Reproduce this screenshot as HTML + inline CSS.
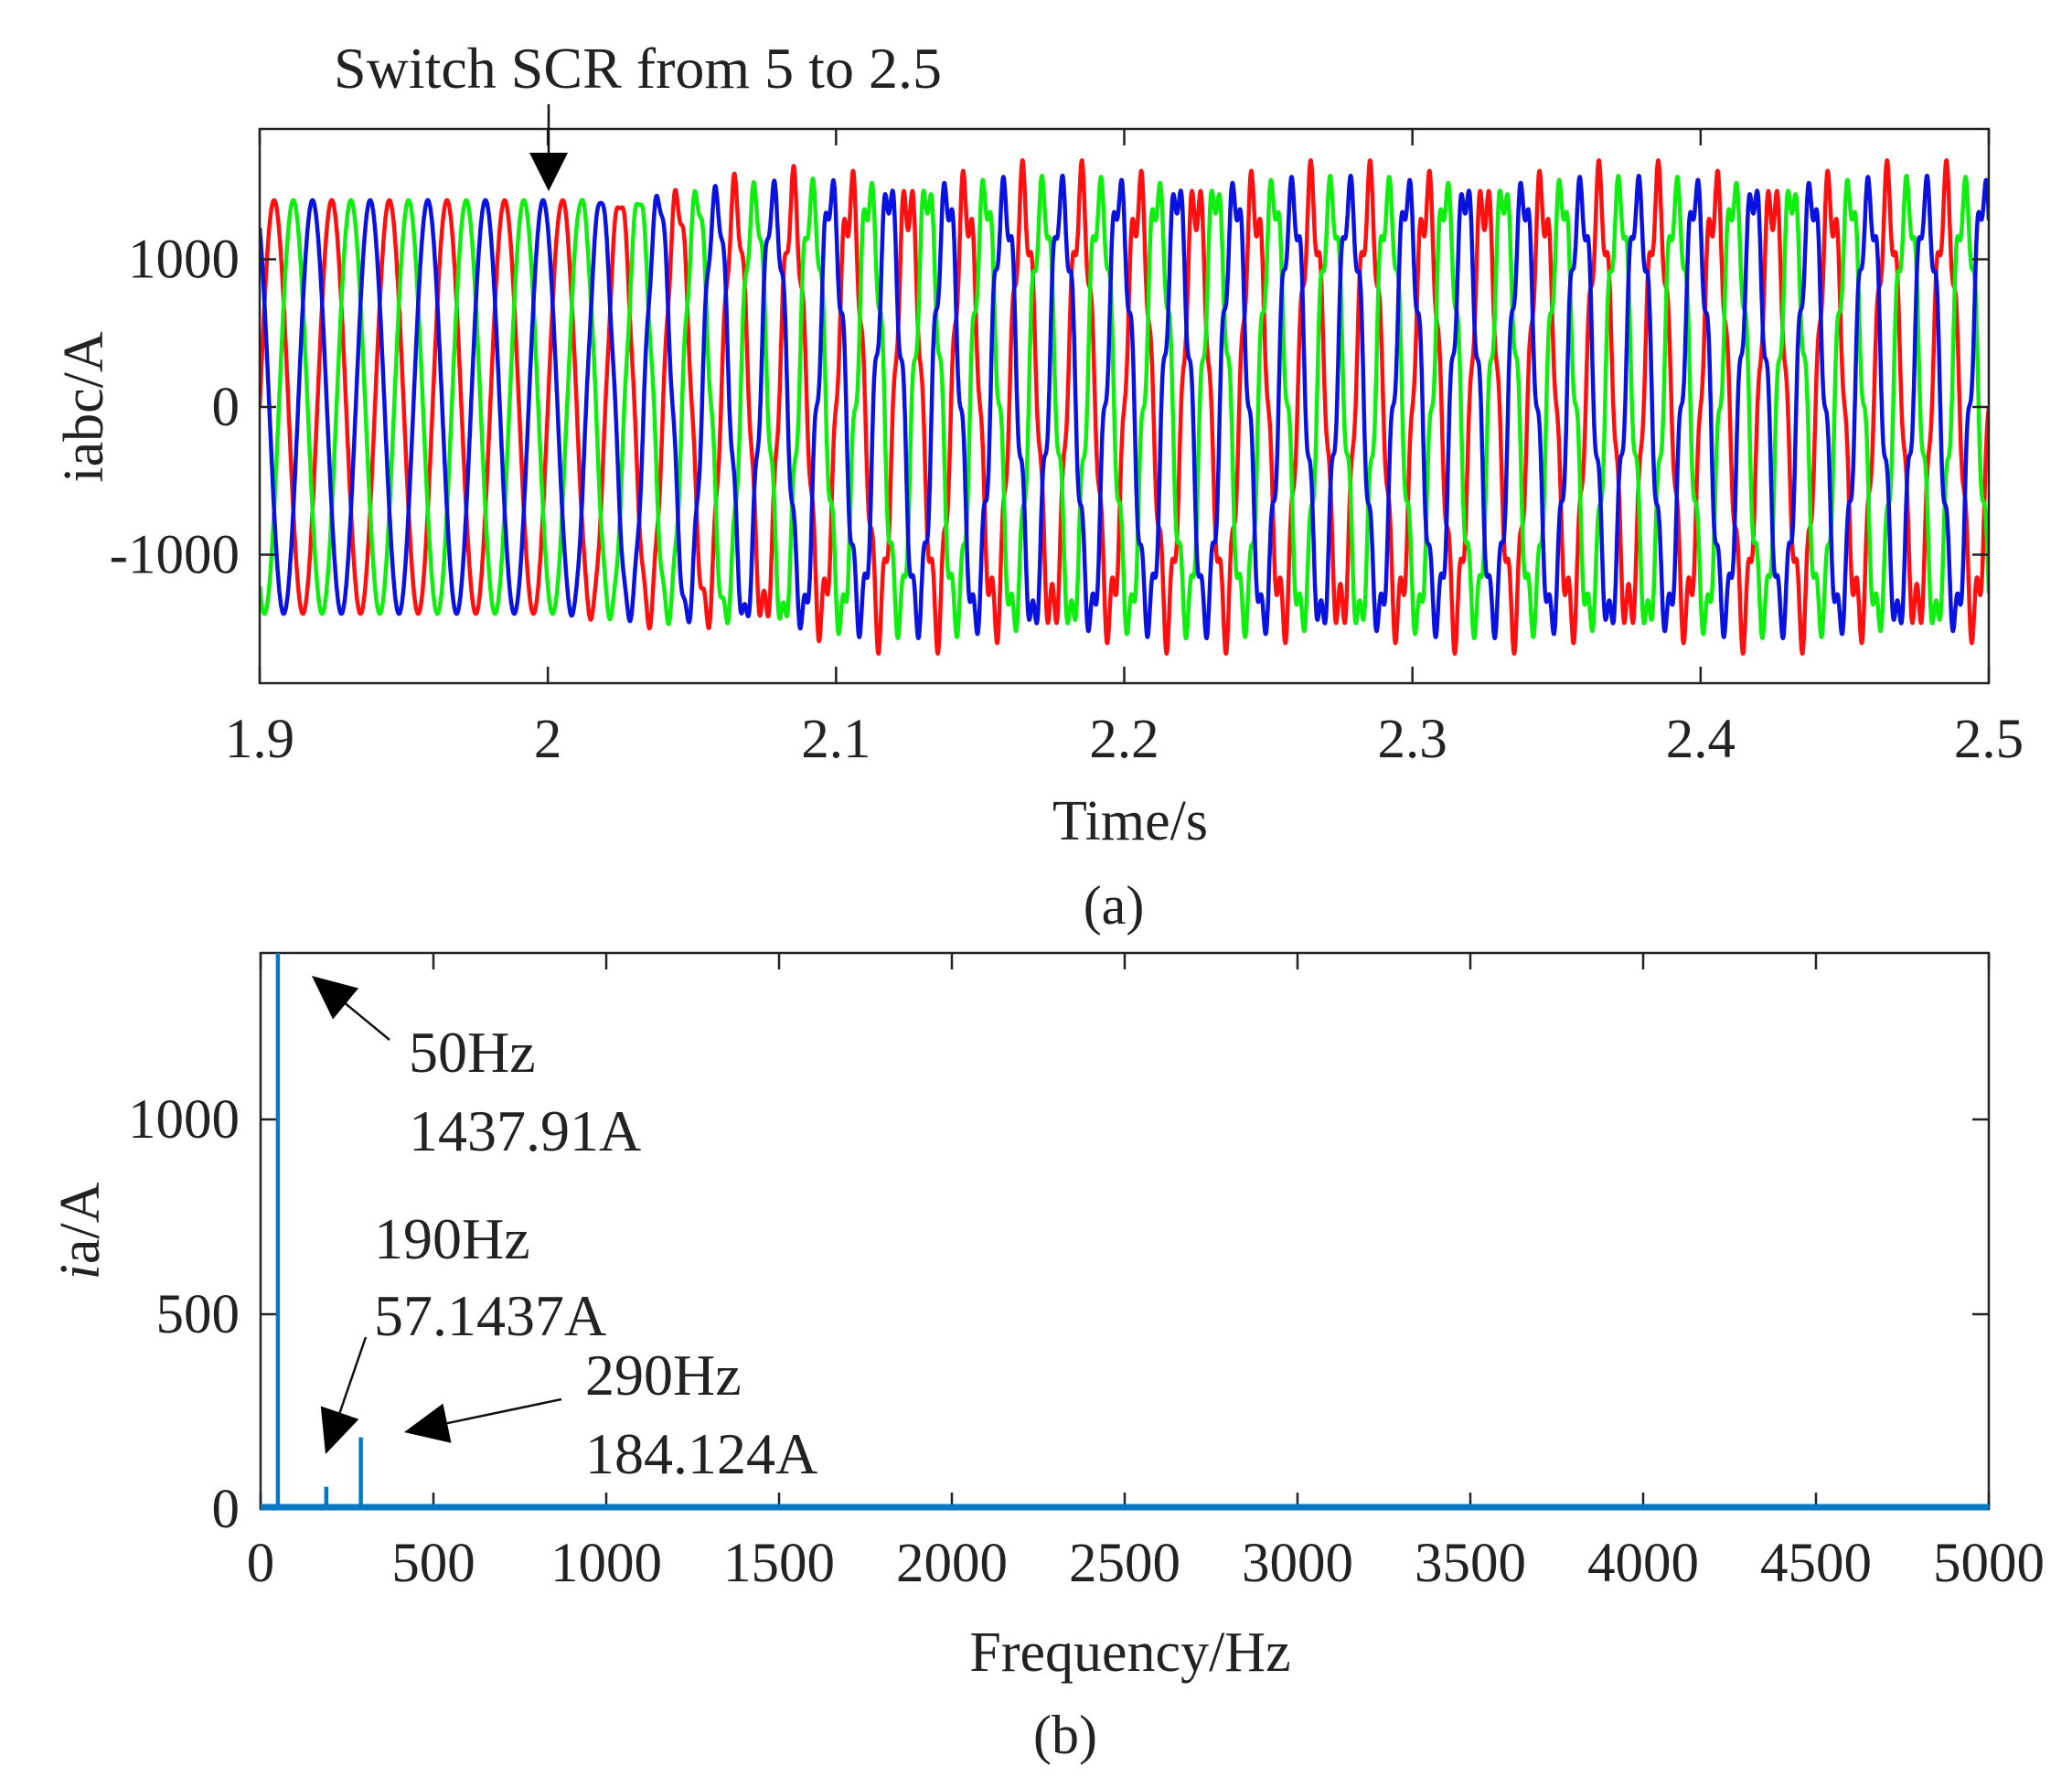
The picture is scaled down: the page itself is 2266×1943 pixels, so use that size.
<!DOCTYPE html>
<html><head><meta charset="utf-8">
<style>
html,body{margin:0;padding:0;background:#fff;}
svg text{font-family:"Liberation Serif",serif;fill:#222;}
</style></head>
<body>
<svg id="fig" width="2266" height="1938" viewBox="0 0 2266 1938" xmlns="http://www.w3.org/2000/svg">
<defs>
<clipPath id="clipA"><rect x="284" y="141" width="1891" height="606"/></clipPath>
<clipPath id="clipB"><rect x="285" y="1042" width="1890" height="612"/></clipPath>
</defs>
<g id="plotA"></g>
<g id="plotB"></g>
</svg>
<script>
// ---- Chart (a) data ----
const timeTicks = [1.9, 2.0, 2.1, 2.2, 2.3, 2.4, 2.5];
const timeTickLabels = ["1.9","2","2.1","2.2","2.3","2.4","2.5"];
const currentTicks = [1000, 0, -1000];
const currentTickLabels = ["1000","0","-1000"];
// envelope: time, fundamental amplitude, 190Hz amp, 290Hz amp
const envTimes = [1.9, 2.0, 2.05, 2.1, 2.5];
const envFund = [1400, 1400, 1420, 1438, 1438];
const envH190 = [0, 0, 30, 57, 57];
const envH290 = [0, 0, 100, 184, 184];
const phaseNames = ["a","b","c"];
const phaseShiftDeg = [0, 120, -120];
const phaseColors = ["#ff1010","#0a12e0","#10ee10"];
// ---- Chart (b) data ----
const freqTicks = [0,500,1000,1500,2000,2500,3000,3500,4000,4500,5000];
const ampTicks = [0,500,1000];
const specFreqs = [50, 190, 290];
const specAmps = [1437.91, 57.1437, 184.124];

const NS="http://www.w3.org/2000/svg";
function mk(tag, attrs, parent){const e=document.createElementNS(NS,tag);for(const k in attrs)e.setAttribute(k,attrs[k]);parent.appendChild(e);return e;}
function interp(xs, ys, x){if(x<=xs[0])return ys[0];for(let i=1;i<xs.length;i++){if(x<=xs[i]){const f=(x-xs[i-1])/(xs[i]-xs[i-1]);return ys[i-1]+f*(ys[i]-ys[i-1]);}}return ys[ys.length-1];}

// ---- axes (a) ----
const A={l:284,r:2175,t:141,b:747};
const xA=t=>A.l+(t-1.9)/0.6*(A.r-A.l);
const yA=v=>445-v*0.1615;
const gA=document.getElementById('plotA');
const sg=mk('g',{'clip-path':'url(#clipA)'},gA);


const order=[0,2,1];
order.forEach(p=>{
  let d='';
  for(let i=0;i<=6000;i++){
    const t=1.9+i*0.6/6000, tau=t-1.9, ph=phaseShiftDeg[p]*Math.PI/180;
    const v=interp(envTimes,envFund,t)*Math.sin(2*Math.PI*50*tau+ph)
      +interp(envTimes,envH190,t)*Math.sin(2*Math.PI*190*tau-ph*3.8)
      +interp(envTimes,envH290,t)*Math.sin(2*Math.PI*290*tau+ph*5.8+Math.PI);
    d+=(i?'L':'M')+xA(t).toFixed(1)+' '+yA(v).toFixed(1);
  }
  const pth=mk('path',{d:d,fill:'none',stroke:phaseColors[p],'stroke-width':4.5,'stroke-linejoin':'round'},sg);
  
  
});
const frA=mk('rect',{x:A.l,y:A.t,width:A.r-A.l,height:A.b-A.t,fill:'none',stroke:'#222','stroke-width':2.5},gA);


timeTicks.forEach((t,i)=>{
  const x=xA(t);
  mk('line',{x1:x,y1:A.b,x2:x,y2:A.b-18,stroke:'#222','stroke-width':2.5},gA);
  mk('line',{x1:x,y1:A.t,x2:x,y2:A.t+18,stroke:'#222','stroke-width':2.5},gA);
  const tx=mk('text',{x:x,y:828,'font-size':61,'text-anchor':'middle'},gA);
  tx.textContent=timeTickLabels[i];
  
  
});
currentTicks.forEach((v,i)=>{
  const y=yA(v);
  mk('line',{x1:A.l,y1:y,x2:A.l+18,y2:y,stroke:'#222','stroke-width':2.5},gA);
  mk('line',{x1:A.r,y1:y,x2:A.r-18,y2:y,stroke:'#222','stroke-width':2.5},gA);
  const tx=mk('text',{x:262,y:y+20,'font-size':61,'text-anchor':'end'},gA);
  tx.textContent=currentTickLabels[i];
  
  
});
let t1=mk('text',{x:0,y:0,'font-size':62,'text-anchor':'middle',transform:'translate(112,445) rotate(-90)'},gA);
t1.textContent='iabc/A';


t1=mk('text',{x:1236,y:918,'font-size':62,'text-anchor':'middle'},gA);
t1.textContent='Time/s';


t1=mk('text',{x:1218,y:1010,'font-size':60,'text-anchor':'middle'},gA);
t1.textContent='(a)';


t1=mk('text',{x:365,y:96,'font-size':64},gA);
t1.textContent='Switch SCR from 5 to 2.5';


mk('line',{x1:600,y1:114,x2:600,y2:175,stroke:'#111','stroke-width':2.5},gA);
t1=mk('polygon',{points:'579,167 621,167 600,209',fill:'#000'},gA);



// ---- axes (b) ----
const B={l:285,r:2175,t:1042,b:1650};
const xB=f=>B.l+f/5000*(B.r-B.l);
const yB=v=>B.b-v*0.426;
const gB=document.getElementById('plotB');
const frB=mk('rect',{x:B.l,y:B.t,width:B.r-B.l,height:B.b-B.t,fill:'none',stroke:'#222','stroke-width':2.5},gB);


freqTicks.forEach(f=>{
  const x=xB(f);
  mk('line',{x1:x,y1:B.b,x2:x,y2:B.b-18,stroke:'#222','stroke-width':2.5},gB);
  mk('line',{x1:x,y1:B.t,x2:x,y2:B.t+18,stroke:'#222','stroke-width':2.5},gB);
  const tx=mk('text',{x:x,y:1729,'font-size':61,'text-anchor':'middle'},gB);
  tx.textContent=String(f);
  
  
});
ampTicks.forEach(v=>{
  const y=yB(v);
  mk('line',{x1:B.l,y1:y,x2:B.l+18,y2:y,stroke:'#222','stroke-width':2.5},gB);
  mk('line',{x1:B.r,y1:y,x2:B.r-18,y2:y,stroke:'#222','stroke-width':2.5},gB);
  const tx=mk('text',{x:262,y:y+20,'font-size':61,'text-anchor':'end'},gB);
  tx.textContent=String(v);
  
  
});
const sp=mk('g',{'clip-path':'url(#clipB)'},gB);


const base=mk('line',{x1:B.l,y1:B.b-2,x2:B.r,y2:B.b-2,stroke:'#0a78c0','stroke-width':7},sp);


specFreqs.forEach((f,i)=>{
  const ln=mk('line',{x1:xB(f),y1:B.b,x2:xB(f),y2:yB(specAmps[i]),stroke:'#0a78c0','stroke-width':4.5},sp);
  
  
});
t1=mk('text',{x:0,y:0,'font-size':62,'text-anchor':'middle',transform:'translate(108,1346) rotate(-90)'},gB);
t1.innerHTML='<tspan font-style="italic">i</tspan>a/A';


t1=mk('text',{x:1236,y:1827,'font-size':62,'text-anchor':'middle'},gB);
t1.textContent='Frequency/Hz';


t1=mk('text',{x:1165,y:1917,'font-size':60,'text-anchor':'middle'},gB);
t1.textContent='(b)';


const labels=[["50Hz",447,1172],["1437.91A",447,1258],["190Hz",409,1376],["57.1437A",409,1460],["290Hz",640,1525],["184.124A",640,1611]];
labels.forEach(l=>{
  const tx=mk('text',{x:l[1],y:l[2],'font-size':64},gB);
  tx.textContent=l[0];
  
  
});
function arrow(x1,y1,x2,y2,name){
  const g=mk('g',{},gB);
  
  
  const dx=x2-x1,dy=y2-y1,L=Math.hypot(dx,dy),ux=dx/L,uy=dy/L,h=48,w=22;
  const bx=x2-ux*h,by=y2-uy*h;
  mk('line',{x1:x1,y1:y1,x2:bx,y2:by,stroke:'#111','stroke-width':2.5},g);
  mk('polygon',{points:`${x2},${y2} ${bx-uy*w},${by+ux*w} ${bx+uy*w},${by-ux*w}`,fill:'#000'},g);
}
arrow(426,1137,341,1067,'arrow-50hz');
arrow(400,1462,356,1590,'arrow-190hz');
arrow(614,1530,442,1566,'arrow-290hz');
</script>
</body></html>
